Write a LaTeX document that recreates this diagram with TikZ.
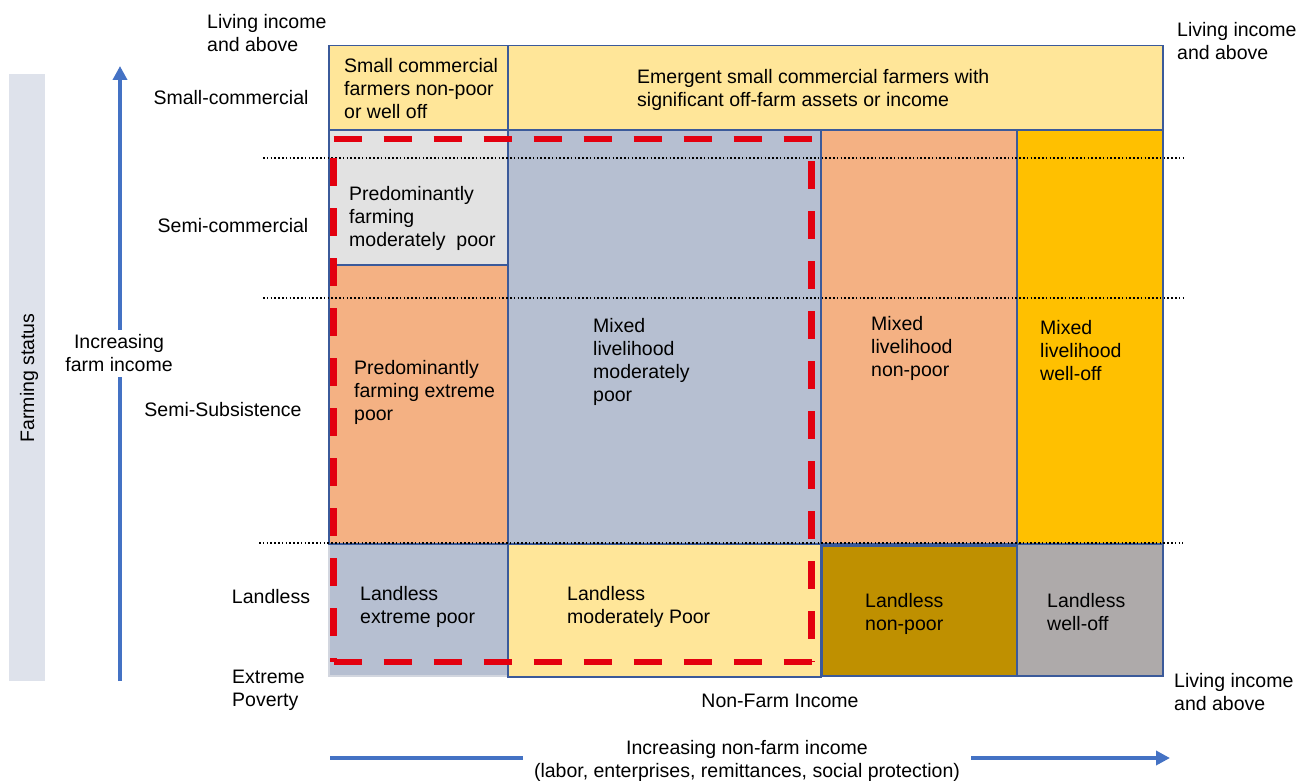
\documentclass[tikz,border=0pt]{standalone}
\usepackage{fontspec}
\setmainfont{Liberation Sans}
\usetikzlibrary{arrows.meta}
\definecolor{ylw}{HTML}{FFE699}
\definecolor{lgray}{HTML}{E2E2E2}
\definecolor{orng}{HTML}{F4B183}
\definecolor{bgray}{HTML}{B6BFD1}
\definecolor{gold}{HTML}{FFC000}
\definecolor{dgold}{HTML}{BF9000}
\definecolor{mgray}{HTML}{AEAAAA}
\definecolor{band}{HTML}{DEE2EB}
\definecolor{cellborder}{HTML}{3B5A9A}
\definecolor{lightborder}{HTML}{D2D6DF}
\definecolor{arrowblue}{HTML}{4472C4}
\definecolor{redd}{HTML}{E3000F}
\begin{document}
\begin{tikzpicture}[x=1pt,y=-1pt,
  every node/.style={font=\fontsize{19.5}{23}\selectfont, inner sep=0pt, text=black},
  cell/.style={draw=cellborder, line width=1.5pt, anchor=north west},
  lbl/.style={align=left, anchor=west, yshift=-2.5pt},
  clbl/.style={align=center, anchor=center, yshift=-1.5pt},
  dotline/.style={black, line width=1.6pt, dash pattern=on 1.6pt off 2.2pt},
  reddash/.style={draw=redd, line width=6.5pt, dash pattern=on 28pt off 22pt},
  bluearrow/.style={draw=arrowblue, line width=4.5pt, -{Triangle[width=14pt,length=14pt]}}]
\useasboundingbox (0,0) rectangle (1308,781);

% left band
\node[fill=band, anchor=north west, minimum width=36pt, minimum height=607pt] (band) at (9,74) {};
\node[rotate=90] (fstat) at (29,378) {Farming status};

% vertical arrow
\coordinate (a1) at (120,681);
\coordinate (a2) at (120,66);
\draw[bluearrow] (a1) -- (a2);
\node[clbl, fill=white, inner ysep=5pt, inner xsep=2pt, yshift=-1pt] (incfarm) at (119,351) {Increasing\\farm income};

% row labels
\node[lbl] (lia) at (207,30.5) {Living income\\and above};
\node[clbl] (scom) at (231,96) {Small-commercial};
\node[clbl] (semic) at (233,224) {Semi-commercial};
\node[clbl] (semis) at (223,408) {Semi-Subsistence};
\node[clbl] (landl) at (271,595) {Landless};
\node[lbl] (extp) at (232,687.5) {Extreme\\Poverty};

% cells
\node[cell, draw=lightborder, fill=bgray, minimum width=179pt, minimum height=132pt] (c41) at (328,543) {};
\node[cell, fill=ylw, minimum width=179pt, minimum height=84pt] (c11) at (328,45) {};
\node[cell, fill=ylw, minimum width=655pt, minimum height=84pt] (c12) at (507,45) {};
\node[cell, fill=lgray, minimum width=179pt, minimum height=135pt] (c21) at (328,129) {};
\node[cell, fill=orng, minimum width=179pt, minimum height=279pt] (c31) at (328,264) {};
\node[cell, fill=bgray, minimum width=313pt, minimum height=414pt] (c2m) at (507,129) {};
\node[cell, fill=orng, minimum width=196pt, minimum height=414pt] (c2n) at (820,129) {};
\node[cell, fill=gold, minimum width=146pt, minimum height=414pt] (c2w) at (1016,129) {};
\node[cell, fill=ylw, minimum width=313pt, minimum height=133pt] (c42) at (507,543) {};
\node[cell, fill=dgold, minimum width=195pt, minimum height=130pt] (c43) at (821,545) {};
\node[cell, fill=mgray, minimum width=146pt, minimum height=132pt] (c44) at (1016,543) {};

% cell texts
\node[lbl] (t11) at (344,85.7) {Small commercial\\farmers non-poor\\or well off};
\node[lbl] (t12) at (637,87.5) {Emergent small commercial farmers with\\significant off-farm assets or income};
\node[lbl] (t21) at (349,216) {Predominantly\\farming\\moderately\ \ poor};
\node[lbl] (t31) at (354,390) {Predominantly\\farming extreme\\poor};
\node[lbl] (t2m) at (593,359.75) {Mixed\\livelihood\\moderately\\poor};
\node[lbl] (t2n) at (871,346) {Mixed\\livelihood\\non-poor};
\node[lbl] (t2w) at (1040,348) {Mixed\\livelihood\\well-off};
\node[lbl] (t41) at (360,604.5) {Landless\\extreme poor};
\node[lbl] (t42) at (567,604.5) {Landless\\moderately Poor};
\node[lbl] (t43) at (865,611.5) {Landless\\non-poor};
\node[lbl] (t44) at (1047,609.5) {Landless\\well-off};

% dotted lines
\coordinate (d1a) at (263,158); \coordinate (d1b) at (1183,158);
\coordinate (d2a) at (263,298); \coordinate (d2b) at (1183,298);
\coordinate (d3a) at (259,543); \coordinate (d3b) at (1183,543);
\draw[dotline] (d1a) -- (d1b);
\draw[dotline] (d2a) -- (d2b);
\draw[dotline] (d3a) -- (d3b);

% red dashed rectangle (four sides)
\coordinate (rtl) at (333.5,139);
\coordinate (rtr) at (811.5,139);
\coordinate (rbl) at (333.5,662);
\coordinate (rbr) at (811.5,662);
\draw[reddash] (rtl) -- (rtr);
\draw[reddash, dash phase=28pt] (rtr) -- (rbr);
\draw[reddash] (rbl) -- (rbr);
\draw[reddash, dash phase=31pt] (rtl) -- (rbl);

% right labels
\node[lbl] (liar1) at (1177,38.5) {Living income\\and above};
\node[lbl] (liar2) at (1174,689.5) {Living income\\and above};
\node[clbl] (nfi) at (780,699) {Non-Farm Income};

% bottom arrow
\coordinate (b1) at (330,758);
\coordinate (b2) at (1170,758);
\draw[bluearrow] (b1) -- (b2);
\node[clbl, fill=white, inner xsep=11pt, inner ysep=2pt, yshift=-1pt] (incnf) at (747,758.5) {Increasing non-farm income\\(labor, enterprises, remittances, social protection)};
\end{tikzpicture}
\end{document}
